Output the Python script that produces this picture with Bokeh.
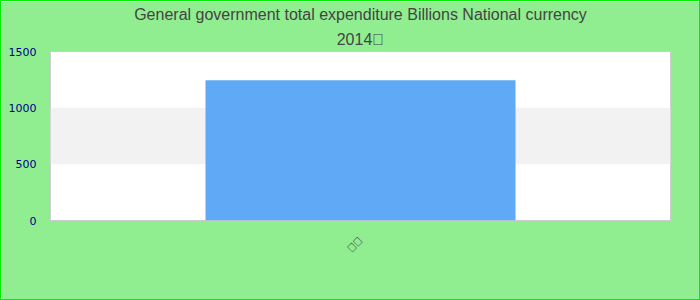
from bokeh.plotting import figure
from bokeh.models import Title, Range1d, FixedTicker
from bokeh.embed import file_html
from bokeh.resources import INLINE
import math

title_line1 = "General government total expenditure Billions National currency"
title_line2 = "2014\ue000"
categories = ["\ue000\ue000"]
values = [1245]
y_ticks = [0, 500, 1000, 1500]

p = figure(width=698, height=298, x_range=categories, y_range=Range1d(0, 1500),
           output_backend="svg", toolbar_location=None,
           frame_width=620, frame_height=169,
           min_border_left=49, min_border_right=29, min_border_top=0, min_border_bottom=79)
p.styles = {"border": "1px solid #00ee00"}
p.background_fill_color = "white"
p.border_fill_color = "#90ee90"
p.outline_line_color = "#cccccc"

p.title.text = title_line1
p.title.align = "center"
p.title.text_font = "Liberation Sans"
p.title.text_font_size = "16px"
p.title.text_font_style = "normal"
p.title.text_color = "#444444"
p.title.standoff = 5
p.add_layout(Title(text=title_line2, align="center", text_font="Liberation Sans",
                   text_font_size="16px", text_font_style="normal", text_color="#444444",
                   standoff=7), "above")

p.vbar(x=categories, top=values, width=0.5, color="#60a9f6", line_color=None)

p.yaxis.ticker = FixedTicker(ticks=y_ticks)
p.yaxis.axis_line_color = None
p.yaxis.major_tick_line_color = None
p.yaxis.minor_tick_line_color = None
p.yaxis.major_label_text_color = "#00008b"
p.yaxis.major_label_text_font = "DejaVu Sans"
p.yaxis.major_label_text_font_size = "11px"
p.yaxis.major_label_standoff = 8

p.xaxis.axis_line_color = None
p.xaxis.major_tick_line_color = None
p.xaxis.major_label_orientation = math.pi / 4
p.xaxis.major_label_text_font_size = "11px"
p.xaxis.major_label_text_color = "#333333"
p.xaxis.major_label_standoff = 12

p.xgrid.grid_line_color = None
p.ygrid.grid_line_color = None
p.ygrid.band_fill_color = "#f2f2f2"
p.ygrid.band_fill_alpha = 1.0

open("out.html", "w").write(file_html(p, INLINE))
